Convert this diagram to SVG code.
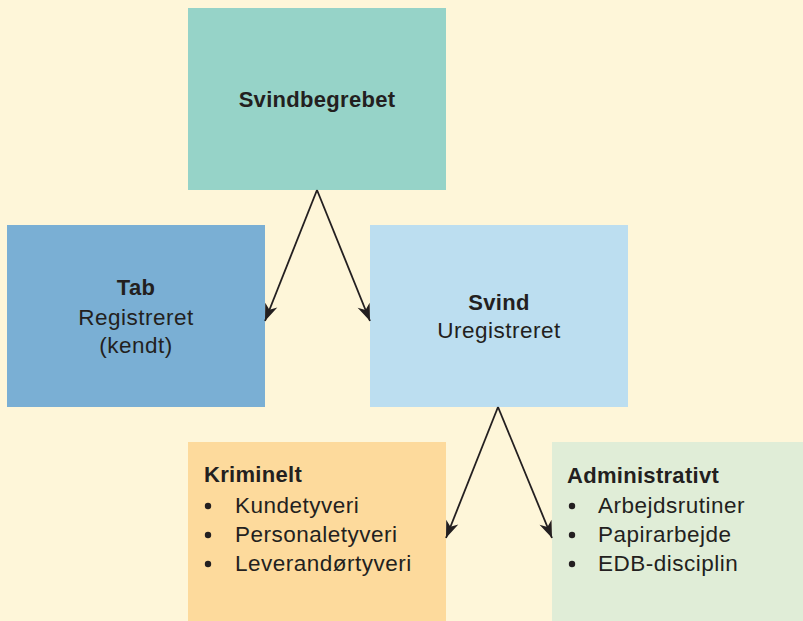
<svg xmlns="http://www.w3.org/2000/svg" width="803" height="621" viewBox="0 0 803 621">
  <defs>
    <marker id="arrow" markerUnits="userSpaceOnUse" markerWidth="20" markerHeight="16" viewBox="-18 -8 20 16" refX="0" refY="0" orient="auto">
      <path d="M0,0 L-17,-6.5 L-12,0 L-17,6.5 Z" fill="#231f20"/>
    </marker>
    <style>
      .t { font-family: "Liberation Sans", Arial, sans-serif; font-size: 22.5px; fill: #231f20; letter-spacing: 0.5px; }
      .b { font-weight: bold; font-size: 22px; letter-spacing: 0.3px; }
      .c { text-anchor: middle; }
      .link { stroke: #231f20; stroke-width: 1.8; fill: none; marker-end: url(#arrow); }
      .dot { fill: #231f20; }
    </style>
  </defs>

  <rect width="803" height="621" fill="#fef6d9"/>

  <g id="svindbegrebet">
    <rect x="188" y="8" width="258" height="182" fill="#96d3c8"/>
    <text class="t b c" x="317" y="107">Svindbegrebet</text>
  </g>

  <g id="tab">
    <rect x="7" y="225" width="258" height="182" fill="#7aafd4"/>
    <text class="t b c" x="136" y="295">Tab</text>
    <text class="t c" x="136" y="325">Registreret</text>
    <text class="t c" x="136" y="353">(kendt)</text>
  </g>

  <g id="svind">
    <rect x="370" y="225" width="258" height="182" fill="#bcdef0"/>
    <text class="t b c" x="499" y="310">Svind</text>
    <text class="t c" x="499" y="338">Uregistreret</text>
  </g>

  <g id="kriminelt">
    <rect x="188" y="442" width="258" height="179" fill="#fdda9c"/>
    <text class="t b" x="204" y="482">Kriminelt</text>
    <circle class="dot" cx="208" cy="506" r="3.2"/>
    <text class="t" x="235" y="512.5">Kundetyveri</text>
    <circle class="dot" cx="208" cy="535" r="3.2"/>
    <text class="t" x="235" y="541.5">Personaletyveri</text>
    <circle class="dot" cx="208" cy="564" r="3.2"/>
    <text class="t" x="235" y="570.5">Leverandørtyveri</text>
  </g>

  <g id="administrativt">
    <rect x="552" y="442" width="251" height="179" fill="#e0edd7"/>
    <text class="t b" x="567" y="482.5">Administrativt</text>
    <circle class="dot" cx="572" cy="506" r="3.2"/>
    <text class="t" x="598" y="512.5">Arbejdsrutiner</text>
    <circle class="dot" cx="572" cy="535" r="3.2"/>
    <text class="t" x="598" y="541.5">Papirarbejde</text>
    <circle class="dot" cx="572" cy="564" r="3.2"/>
    <text class="t" x="598" y="570.5">EDB-disciplin</text>
  </g>

  <g id="connectors">
    <line class="link" x1="317" y1="190" x2="265" y2="321"/>
    <line class="link" x1="317" y1="190" x2="370" y2="321"/>
    <line class="link" x1="498" y1="407" x2="446" y2="538"/>
    <line class="link" x1="498" y1="407" x2="552" y2="538"/>
  </g>
</svg>
